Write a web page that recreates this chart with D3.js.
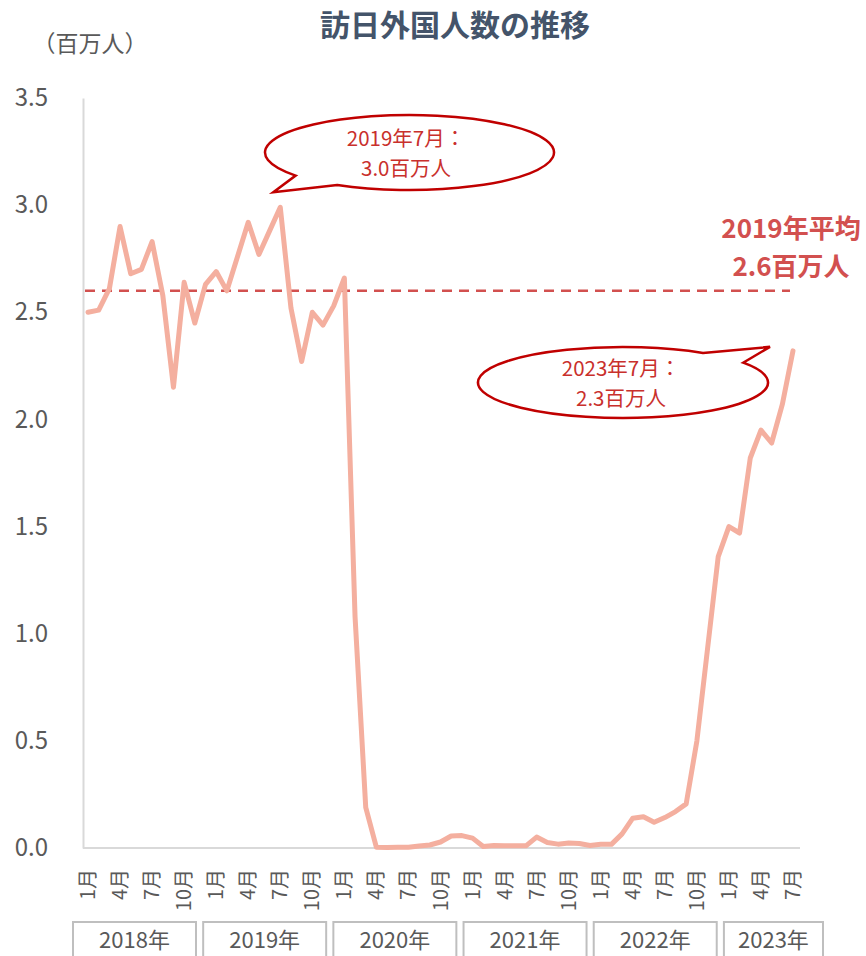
<!DOCTYPE html>
<html lang="ja">
<head>
<meta charset="utf-8">
<script src="https://cdn.jsdelivr.net/npm/d3@7"></script>
<style>
  html, body { margin: 0; padding: 0; background: #ffffff; }
  svg { display: block; font-family: "Noto Sans CJK JP", "Noto Sans", sans-serif; }
</style>
</head>
<body>
<svg id="chart" width="866" height="956"></svg>
<script>
// Monthly foreign visitors to Japan (millions)
const years = ["2018年", "2019年", "2020年", "2021年", "2022年", "2023年"];
const visitors2018 = [2.50, 2.51, 2.61, 2.90, 2.68, 2.70, 2.83, 2.58, 2.15, 2.64, 2.45, 2.63];
const visitors2019 = [2.69, 2.60, 2.76, 2.92, 2.77, 2.88, 2.99, 2.52, 2.27, 2.50, 2.44, 2.53];
const visitors2020 = [2.66, 1.08, 0.19, 0.003, 0.002, 0.003, 0.004, 0.009, 0.014, 0.028, 0.056, 0.058];
const visitors2021 = [0.046, 0.007, 0.012, 0.011, 0.010, 0.010, 0.051, 0.026, 0.018, 0.023, 0.021, 0.012];
const visitors2022 = [0.017, 0.017, 0.066, 0.139, 0.146, 0.120, 0.142, 0.170, 0.206, 0.499, 0.93, 1.36];
const visitors2023 = [1.50, 1.47, 1.82, 1.95, 1.89, 2.07, 2.32];
const yTicks = [0, 0.5, 1.0, 1.5, 2.0, 2.5, 3.0, 3.5];
const avg2019 = 2.6;
const titleText = "訪日外国人数の推移";
const unitText = "（百万人）";

const byYear = [visitors2018, visitors2019, visitors2020, visitors2021, visitors2022, visitors2023];
const series = [];
byYear.forEach((vals, yi) => vals.forEach((v, mi) => series.push({ i: yi * 12 + mi, year: yi, month: mi + 1, v })));

const svg = d3.select("#chart");
const x = d3.scaleLinear().domain([0, series.length - 1]).range([88, 793]);
const y = d3.scaleLinear().domain([0, 3.5]).range([848, 98]);

const grayText = "#595959";
const axisGray = "#D9D9D9";
const red = "#D2504F";
const calloutRed = "#C00000";
const calloutText = "#C9302C";

// Title
svg.append("text")
  .attr("x", 455).attr("y", 36)
  .attr("text-anchor", "middle")
  .attr("font-size", 30).attr("font-weight", 700)
  .attr("fill", "#44546A")
  .text(titleText);

// Unit label
svg.append("text")
  .attr("x", 90).attr("y", 52)
  .attr("text-anchor", "middle")
  .attr("font-size", 23)
  .attr("fill", grayText)
  .text(unitText);

// Y axis
const yAxis = svg.append("g")
  .attr("transform", "translate(83,0)")
  .call(d3.axisLeft(y).tickValues(yTicks).tickFormat(d3.format(".1f")).tickSize(0).tickSizeOuter(0).tickPadding(35));
yAxis.select(".domain").attr("stroke", axisGray).attr("stroke-width", 2);
yAxis.selectAll("text").attr("font-size", 24).attr("fill", grayText)
  .attr("font-family", "'Noto Sans CJK JP', sans-serif");

// X axis baseline
svg.append("line")
  .attr("x1", 83).attr("x2", 800)
  .attr("y1", y(0)).attr("y2", y(0))
  .attr("stroke", axisGray).attr("stroke-width", 2);

// Month labels (1, 4, 7, 10) rotated
const monthTicks = series.filter(d => (d.month - 1) % 3 === 0);
svg.append("g").selectAll("text")
  .data(monthTicks)
  .join("text")
  .attr("transform", d => `translate(${x(d.i)},${y(0)}) rotate(-90)`)
  .attr("x", -21).attr("y", 0).attr("dy", "0.35em")
  .attr("text-anchor", "end")
  .attr("font-size", 20)
  .attr("fill", grayText)
  .text(d => `${d.month}月`);

// Year group boxes
const lastIndex = series.length - 1;
const yearBoxes = years.map((name, yi) => {
  const left = x(yi * 12) - 15 + 2 * yi;
  const right = yi === years.length - 1 ? x(lastIndex) + 30 : left + 123;
  return { name, left, right };
});
const yearG = svg.append("g");
yearG.selectAll("rect")
  .data(yearBoxes)
  .join("rect")
  .attr("x", d => d.left).attr("y", 922)
  .attr("width", d => d.right - d.left).attr("height", 60)
  .attr("fill", "none").attr("stroke", "#BFBFBF").attr("stroke-width", 2);
yearG.selectAll("text")
  .data(yearBoxes)
  .join("text")
  .attr("x", d => (d.left + d.right) / 2).attr("y", 948)
  .attr("text-anchor", "middle")
  .attr("font-size", 22)
  .attr("fill", grayText)
  .text(d => d.name);

// 2019 average reference line
svg.append("line")
  .attr("x1", 85).attr("x2", 790)
  .attr("y1", y(avg2019)).attr("y2", y(avg2019))
  .attr("stroke", red).attr("stroke-width", 2.5)
  .attr("stroke-dasharray", "10,7");

svg.append("text")
  .attr("x", 791).attr("y", 238)
  .attr("text-anchor", "middle")
  .attr("font-size", 26).attr("font-weight", 700)
  .attr("fill", red)
  .text("2019年平均");
svg.append("text")
  .attr("x", 791).attr("y", 276)
  .attr("text-anchor", "middle")
  .attr("font-size", 26).attr("font-weight", 700)
  .attr("fill", red)
  .text(`${d3.format(".1f")(avg2019)}百万人`);

// Visitor line
svg.append("path")
  .datum(series)
  .attr("fill", "none")
  .attr("stroke", "#F4AF9F")
  .attr("stroke-width", 5)
  .attr("stroke-linejoin", "round")
  .attr("stroke-linecap", "round")
  .attr("d", d3.line().x(d => x(d.i)).y(d => y(d.v)));

// Speech-bubble callouts
function ellipsePoint(cx, cy, rx, ry, deg) {
  const t = deg * Math.PI / 180;
  return [cx + rx * Math.cos(t), cy + ry * Math.sin(t)];
}
function callout(c) {
  const a = ellipsePoint(c.cx, c.cy, c.rx, c.ry, c.a1);
  const b = ellipsePoint(c.cx, c.cy, c.rx, c.ry, c.a2);
  const d = `M${a[0]},${a[1]} L${c.tip[0]},${c.tip[1]} L${b[0]},${b[1]} ` +
            `A${c.rx},${c.ry} 0 1 1 ${a[0]},${a[1]} Z`;
  svg.append("path")
    .attr("d", d)
    .attr("fill", "#ffffff")
    .attr("stroke", calloutRed)
    .attr("stroke-width", 2.5)
    .attr("stroke-linejoin", "miter");
  [c.line1, c.line2].forEach((line, k) => {
    svg.append("text")
      .attr("x", c.tx).attr("y", c.cy - 7 + k * 30)
      .attr("text-anchor", "middle")
      .attr("font-size", 20.5)
      .attr("fill", calloutText)
      .text(line);
  });
}

const peak2019 = series.find(d => d.year === 1 && d.month === 7);
const latest = series[lastIndex];
const fmt = d3.format(".1f");

callout({
  cx: 409.5, cy: 152.5, rx: 144.5, ry: 37.5, a1: 120, a2: 142,
  tip: [x(peak2019.i) - 7, y(peak2019.v) - 15],
  tx: 406,
  line1: `${years[peak2019.year].replace("年", "")}年${peak2019.month}月：`,
  line2: `${fmt(peak2019.v)}百万人`
});
callout({
  cx: 623, cy: 382.5, rx: 145, ry: 35.5, a1: -56.5, a2: -34,
  tip: [x(latest.i) - 23, y(latest.v) - 4],
  tx: 621,
  line1: `${years[latest.year].replace("年", "")}年${latest.month}月：`,
  line2: `${fmt(latest.v)}百万人`
});
</script>
</body>
</html>
